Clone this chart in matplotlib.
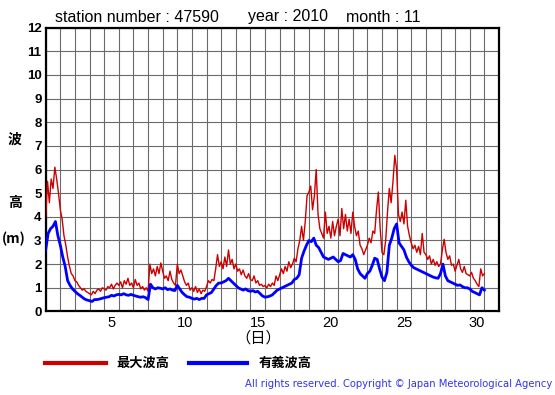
import numpy as np
import matplotlib
matplotlib.use("Agg")
import matplotlib.pyplot as plt

# ---- data ----
# maximum wave height, 3-hourly from Nov 1 00:00 (t in days)
max_wave = [
    4.0, 5.5, 4.6, 5.6, 5.2, 6.1, 5.6, 5.0,
    4.3, 3.9, 3.2, 2.8, 2.3, 1.9, 1.6, 1.5,
    1.3, 1.25, 1.1, 1.0, 0.9, 0.95, 0.85, 0.8,
    0.75, 0.7, 0.85, 0.75, 0.9, 0.95, 0.85, 1.0,
    0.95, 0.9, 1.05, 1.0, 1.15, 0.95, 1.1, 1.2,
    1.1, 1.25, 1.0, 1.3, 1.15, 1.4, 1.1, 1.2,
    1.0, 1.35, 1.1, 1.2, 0.95, 1.05, 0.9, 1.0,
    0.85, 2.0, 1.6, 1.8, 1.5, 1.9, 1.6, 2.05,
    1.7, 1.4, 1.5, 1.3, 1.7, 1.35, 1.2, 1.1,
    2.0, 1.6, 1.75, 1.5, 1.25, 1.1, 1.2, 0.9,
    1.0, 0.85, 1.05, 0.8, 0.95, 0.75, 0.9, 0.85,
    1.05, 1.3, 1.2, 1.35, 1.3, 1.8, 2.4, 1.9,
    2.1, 1.8, 2.3, 1.9, 2.6, 2.0, 2.2, 1.8,
    2.0, 1.7, 1.8, 1.55, 1.75, 1.5, 1.4, 1.6,
    1.35, 1.3, 1.5, 1.2, 1.3, 1.1, 1.15, 1.05,
    1.1, 1.0, 1.15, 1.05, 1.2, 1.1, 1.5, 1.3,
    1.55, 1.8, 1.6, 1.9, 1.7, 2.1, 1.85, 2.0,
    2.25, 2.1, 2.65, 3.0, 3.6, 3.0, 3.8, 4.9,
    5.05, 5.3, 4.3, 4.9, 6.0, 4.1, 3.5, 3.3,
    3.1, 4.2, 3.3, 3.6, 3.1, 3.8, 3.2, 3.6,
    3.9, 3.2, 4.35, 3.5, 4.1, 3.4, 3.9, 3.3,
    4.2, 3.6, 3.2, 3.4, 2.8, 2.65, 2.4, 2.6,
    2.8, 3.1, 2.9, 3.4, 3.3, 4.3, 5.05, 3.5,
    2.5, 2.4, 3.0, 4.2, 5.2, 4.6, 5.5, 6.6,
    6.0, 4.1, 3.8, 4.2, 3.7, 4.7, 3.6, 3.2,
    2.9, 2.65, 2.8, 2.5, 2.75, 2.4, 3.3, 2.5,
    2.4, 2.2, 2.35, 2.0, 2.2, 1.95, 2.1, 1.9,
    2.0, 2.6, 3.05, 2.5, 2.2, 2.35, 1.95, 2.0,
    1.7, 1.95, 2.2, 1.8, 1.65, 1.9, 1.6, 1.55,
    1.5, 1.65, 1.4, 1.3, 1.15, 1.05, 1.8, 1.5,
    1.6,
]
# significant wave height, 4-hourly from Nov 1 00:00
sig_wave = [
    2.6, 3.3, 3.5, 3.6, 3.8, 3.2,
    2.8, 2.3, 1.9, 1.3, 1.1, 0.95,
    0.85, 0.75, 0.68, 0.6, 0.52, 0.48,
    0.45, 0.42, 0.5, 0.5, 0.52, 0.55,
    0.58, 0.6, 0.62, 0.68, 0.65, 0.7,
    0.72, 0.7, 0.75, 0.7, 0.68, 0.72,
    0.68, 0.65, 0.62, 0.6, 0.62, 0.58,
    0.5, 1.15, 1.0, 0.95, 1.0, 0.98,
    0.95, 1.0, 0.92, 0.95, 0.9, 0.88,
    1.1, 0.95, 0.8, 0.7, 0.62, 0.6,
    0.55, 0.52, 0.55, 0.5, 0.55, 0.55,
    0.7, 0.75, 0.8, 0.95, 1.1, 1.2,
    1.2, 1.25, 1.3, 1.4, 1.3, 1.2,
    1.1, 1.0, 0.95, 0.9, 0.95, 0.88,
    0.85, 0.88, 0.82, 0.85, 0.75, 0.65,
    0.6, 0.62, 0.65, 0.7, 0.8, 0.9,
    0.95, 1.0, 1.05, 1.1, 1.15, 1.2,
    1.35, 1.4, 1.55, 2.25, 2.55, 2.8,
    3.0, 2.95, 3.1, 2.8, 2.7, 2.5,
    2.3, 2.25, 2.2, 2.25, 2.3, 2.2,
    2.1, 2.15, 2.45, 2.4, 2.35, 2.3,
    2.4, 2.2, 1.8, 1.6, 1.5, 1.4,
    1.6, 1.7, 1.95, 2.25, 2.2, 1.8,
    1.45, 1.3, 1.65, 2.8, 3.1, 3.5,
    3.7, 2.9, 2.75, 2.6, 2.3, 2.1,
    1.95, 1.85, 1.8, 1.75, 1.7, 1.65,
    1.6, 1.55, 1.5, 1.45, 1.42, 1.4,
    1.6, 2.0, 1.5, 1.3, 1.25, 1.2,
    1.15, 1.1, 1.12, 1.05, 1.0, 1.0,
    0.95, 0.85, 0.8, 0.75, 0.7, 1.0,
    0.9,
]
day_labels = [5, 10, 15, 20, 25, 30]
y_ticks = list(range(0, 13))
n_days = 31
title_station = "station number : 47590"
title_year = "year : 2010"
title_month = "month : 11"
legend_labels = ["最大波高", "有義波高"]

# ---- figure ----
W, H = 555, 395
fig = plt.figure(figsize=(W / 100, H / 100), dpi=100)
fig.patch.set_facecolor("white")

def fx(px):
    return px / W

def fy(py):
    return 1 - py / H

left, right, top, bottom = 45.7, 499.0, 27.7, 311.4
ax = fig.add_axes([fx(left), fy(bottom), fx(right - left), (bottom - top) / H])

t_max = np.linspace(0, 30, len(max_wave))
t_sig = np.linspace(0, 30, len(sig_wave))
ax.plot(t_max, max_wave, color="#cc0000", lw=1.0, zorder=3)
ax.plot(t_sig, sig_wave, color="#0000ff", lw=2.0, zorder=4)

ax.set_xlim(0, n_days)
ax.set_ylim(0, 12)
ax.set_xticks(range(0, n_days + 1), minor=True)
ax.set_xticks([d - 0.5 for d in day_labels])
ax.set_xticklabels([str(d) for d in day_labels], fontsize=10.5,
                   family="Liberation Sans")
ax.set_yticks(y_ticks)
ax.set_yticklabels([str(v) for v in y_ticks], fontsize=9.5, fontweight="bold",
                   family="Liberation Sans")
ax.tick_params(axis="both", which="both", length=0)
ax.tick_params(axis="y", pad=3)
ax.tick_params(axis="x", pad=3)
ax.grid(False)
ax.xaxis.grid(True, which="minor", color="#6a6a6a", lw=0.8)
ax.yaxis.grid(True, which="major", color="#6a6a6a", lw=0.8)
ax.set_axisbelow(True)
for s in ax.spines.values():
    s.set_color("black")
    s.set_linewidth(1.6)

# titles
tkw = dict(fontsize=11.5, family="Liberation Sans", va="center", ha="left")
fig.text(fx(55), fy(17), title_station, **tkw)
fig.text(fx(248), fy(17), title_year, **tkw)
fig.text(fx(346), fy(17), title_month, **tkw)

cjk = ["Noto Sans CJK JP", "DejaVu Sans"]
fig.text(fx(15), fy(140), "波", fontsize=10, family=cjk, fontweight="bold",
         ha="center", va="center")
fig.text(fx(15), fy(203), "高", fontsize=10, family=cjk, fontweight="bold",
         ha="center", va="center")
fig.text(fx(14), fy(239), "(m)", fontsize=10, family=cjk, fontweight="bold",
         ha="center", va="center")
fig.text(fx(258), fy(338), "（日）", fontsize=11, family=cjk,
         ha="center", va="center")

# legend
fig.add_artist(plt.Line2D([fx(45), fx(106)], [fy(363), fy(363)],
                          color="#cc0000", lw=3))
fig.text(fx(116), fy(363), legend_labels[0], fontsize=9.5, family=cjk,
         fontweight="bold", ha="left", va="center")
fig.add_artist(plt.Line2D([fx(189), fx(247)], [fy(363), fy(363)],
                          color="#0000ff", lw=3))
fig.text(fx(259), fy(363), legend_labels[1], fontsize=9.5, family=cjk,
         fontweight="bold", ha="left", va="center")

fig.text(fx(552), fy(384), "All rights reserved. Copyright © Japan Meteorological Agency",
         fontsize=7.2, family="DejaVu Sans", color="#3333ee",
         ha="right", va="center")

fig.savefig("out.png", dpi=100)
